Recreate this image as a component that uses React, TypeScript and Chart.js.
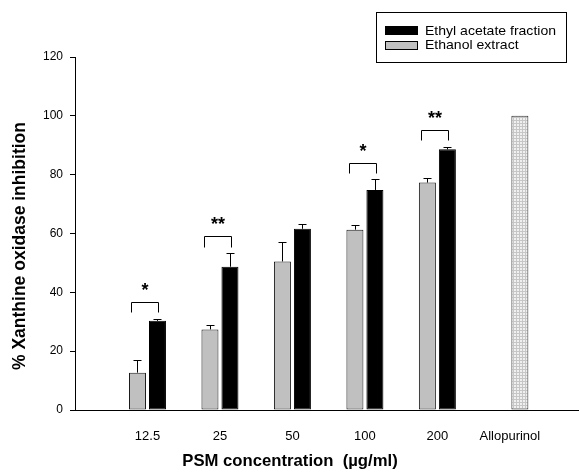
import { useEffect, useRef } from 'react';
import { Chart, registerables } from 'chart.js';

Chart.register(...registerables);

const categories = ['12.5', '25', '50', '100', '200', 'Allopurinol'];
const ethanolValues = [12.7, 27.4, 50.5, 61.3, 77.3];
const ethanolErrors = [4.3, 1.4, 6.5, 1.7, 1.5];
const ethylValues = [30.3, 48.7, 61.6, 74.8, 88.6];
const ethylErrors = [0.8, 4.6, 1.6, 3.6, 0.9];
const allopurinolValue = 100;
const significance = ['*', '**', '', '*', '**', ''];
const yMin = 0;
const yMax = 120;
const yStep = 20;

const FONT = '"Liberation Sans", Arial, sans-serif';

function makePattern(): CanvasPattern | string {
  const c = document.createElement('canvas');
  c.width = 3;
  c.height = 3;
  const p = c.getContext('2d');
  if (!p) return '#dddddd';
  p.fillStyle = '#f0f0f0';
  p.fillRect(0, 0, 3, 3);
  p.fillStyle = '#c6c6c6';
  p.fillRect(0, 0, 3, 1);
  p.fillRect(0, 0, 1, 3);
  const pat = p.createPattern(c, 'repeat');
  return pat || '#dddddd';
}

function stretchedText(ctx: CanvasRenderingContext2D, text: string, x: number, y: number, sx: number) {
  ctx.save();
  ctx.translate(x, y);
  ctx.scale(sx, 1);
  ctx.fillText(text, 0, 0);
  ctx.restore();
}

const annotatePlugin = {
  id: 'annotate',
  afterDatasetsDraw(chart: any) {
    const ctx: CanvasRenderingContext2D = chart.ctx;
    const ys = chart.scales.y;
    const errs = [ethanolErrors, ethylErrors];
    ctx.save();
    ctx.strokeStyle = '#000';
    ctx.lineWidth = 1;
    // error bars
    [0, 1].forEach((di) => {
      const meta = chart.getDatasetMeta(di);
      meta.data.forEach((bar: any, i: number) => {
        const e = errs[di][i];
        if (e == null) return;
        const v = chart.data.datasets[di].data[i].y;
        const x = Math.round(bar.x) + 0.5;
        const y0 = ys.getPixelForValue(v);
        const y1 = Math.round(ys.getPixelForValue(v + e)) + 0.5;
        ctx.beginPath();
        ctx.moveTo(x, y0);
        ctx.lineTo(x, y1);
        ctx.moveTo(x - 4, y1);
        ctx.lineTo(x + 4, y1);
        ctx.stroke();
      });
    });
    // significance brackets
    const m0 = chart.getDatasetMeta(0);
    const m1 = chart.getDatasetMeta(1);
    significance.forEach((s, i) => {
      if (!s) return;
      const g = m0.data[i];
      const b = m1.data[i];
      if (!g || !b) return;
      const top = Math.max(ethanolValues[i] + ethanolErrors[i], ethylValues[i] + ethylErrors[i]);
      const yl = Math.round(ys.getPixelForValue(top + 2.2)) + 0.5;
      const yt = Math.round(ys.getPixelForValue(top + 5.7)) + 0.5;
      const x1 = Math.round(g.x - 6) + 0.5;
      const x2 = Math.round(b.x + 1) + 0.5;
      ctx.beginPath();
      ctx.moveTo(x1, yl);
      ctx.lineTo(x1, yt);
      ctx.lineTo(x2, yt);
      ctx.lineTo(x2, yl);
      ctx.stroke();
      ctx.fillStyle = '#000';
      ctx.font = `bold 18px ${FONT}`;
      ctx.textAlign = 'center';
      ctx.textBaseline = 'alphabetic';
      ctx.fillText(s, (x1 + x2) / 2, yt - 7);
    });
    ctx.restore();
  },
  afterDraw(chart: any) {
    const ctx: CanvasRenderingContext2D = chart.ctx;
    ctx.save();
    // legend
    ctx.strokeStyle = '#000';
    ctx.lineWidth = 1;
    ctx.strokeRect(376.5, 12.5, 190, 50);
    ctx.fillStyle = '#000';
    ctx.fillRect(385, 26, 33, 9);
    ctx.fillStyle = '#c0c0c0';
    ctx.fillRect(385, 41, 33, 9);
    ctx.strokeRect(385.5, 41.5, 32, 8);
    ctx.fillStyle = '#000';
    ctx.font = `13px ${FONT}`;
    ctx.textAlign = 'left';
    ctx.textBaseline = 'middle';
    const l1 = chart.data.datasets[1].label;
    const l0 = chart.data.datasets[0].label;
    const sx = 131 / ctx.measureText(l1).width;
    stretchedText(ctx, l1, 425, 31, sx);
    stretchedText(ctx, l0, 425, 45.5, sx);
    // axis titles
    ctx.font = `bold 16.7px ${FONT}`;
    ctx.textAlign = 'center';
    ctx.textBaseline = 'alphabetic';
    ctx.fillText('PSM concentration  (µg/ml)', 290, 466);
    ctx.translate(25, 246);
    ctx.rotate(-Math.PI / 2);
    ctx.font = `bold 17.5px ${FONT}`;
    ctx.fillText('% Xanthine oxidase inhibition', 0, 0);
    ctx.restore();
  },
};

export default function App() {
  const ref = useRef<HTMLCanvasElement | null>(null);
  useEffect(() => {
    if (!ref.current) return;
    const pattern = makePattern();
    const ethanolData = ethanolValues.map((y, i) => ({ x: i + 1, y }));
    const ethylData = [...ethylValues, allopurinolValue].map((y, i) => ({ x: i + 1, y }));
    const ethylColors = ethylData.map((_, i) => (i === categories.length - 1 ? pattern : '#000000'));
    const ethylBorders = ethylData.map((_, i) => (i === categories.length - 1 ? '#2a2a2a' : '#000000'));
    const chart = new Chart(ref.current, {
      type: 'bar',
      data: {
        datasets: [
          {
            label: 'Ethanol extract',
            data: ethanolData,
            backgroundColor: '#c0c0c0',
            borderColor: '#1a1a1a',
            borderWidth: 1,
            borderSkipped: false,
            categoryPercentage: 0.5517,
            barPercentage: 0.85,
          },
          {
            label: 'Ethyl acetate fraction',
            data: ethylData,
            backgroundColor: ethylColors as any,
            borderColor: ethylBorders,
            borderWidth: 1,
            borderSkipped: false,
            categoryPercentage: 0.5517,
            barPercentage: 0.85,
          },
        ],
      } as any,
      options: {
        responsive: false,
        animation: false,
        layout: { padding: { top: 57, right: 1, bottom: 0, left: 0 } },
        plugins: { legend: { display: false }, tooltip: { enabled: false } },
        scales: {
          x: {
            type: 'linear',
            offset: false,
            min: 0,
            max: 6.94,
            afterBuildTicks: (scale: any) => {
              scale.ticks = categories.map((_, i) => ({ value: i + 1 }));
            },
            afterFit: (scale: any) => {
              scale.height = 66;
            },
            ticks: {
              autoSkip: false,
              maxRotation: 0,
              padding: 19,
              color: '#000',
              font: { family: FONT, size: 13 },
              callback: (v: any) => categories[Number(v) - 1] ?? '',
            },
            grid: { display: false, drawTicks: false, offset: false },
            border: { display: true, color: '#000', width: 1 },
          },
          y: {
            type: 'linear',
            min: yMin,
            max: yMax,
            afterFit: (scale: any) => {
              scale.width = 75;
            },
            ticks: {
              stepSize: yStep,
              padding: 7,
              color: '#000',
              font: { family: FONT, size: 12 },
            },
            grid: { drawOnChartArea: false, drawTicks: true, tickLength: 5, color: '#000' },
            border: { display: true, color: '#000', width: 1 },
          },
        },
      } as any,
      plugins: [annotatePlugin],
    });
    return () => chart.destroy();
  }, []);
  return (
    <div style={{ position: 'fixed', left: 0, top: 0, width: 579, height: 476, background: '#fff' }}>
      <canvas ref={ref} width={579} height={476} />
    </div>
  );
}
